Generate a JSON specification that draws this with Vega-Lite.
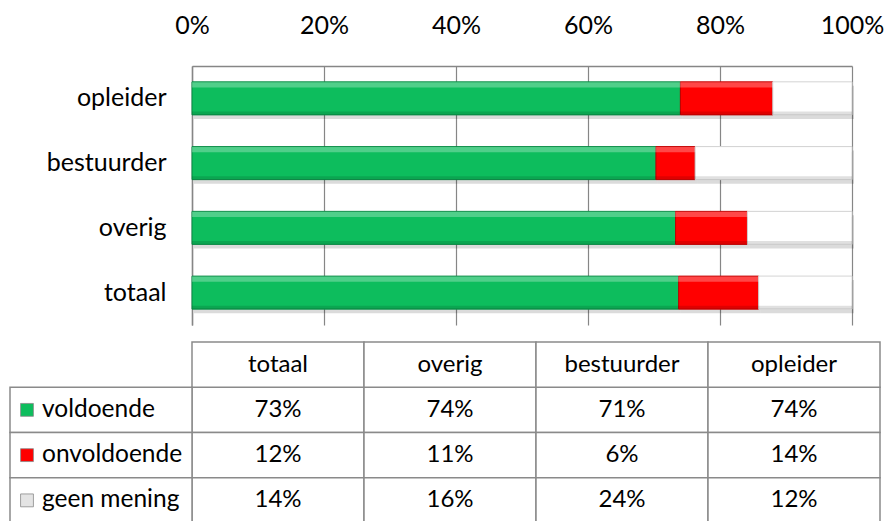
{
  "$schema": "https://vega.github.io/schema/vega-lite/v6.json",
  "autosize": {"type": "none"},
  "padding": {"left": 10, "top": 66, "right": 7, "bottom": 0},
  "background": "white",
  "config": {"font": "Lato", "view": {"stroke": null}},
  "width": 870,
  "height": 455,
  "data": {"values": [
    {"group": "totaal", "answer": "voldoende", "pct": 0.73},
    {"group": "totaal", "answer": "onvoldoende", "pct": 0.12},
    {"group": "totaal", "answer": "geen mening", "pct": 0.14},
    {"group": "overig", "answer": "voldoende", "pct": 0.74},
    {"group": "overig", "answer": "onvoldoende", "pct": 0.11},
    {"group": "overig", "answer": "geen mening", "pct": 0.16},
    {"group": "bestuurder", "answer": "voldoende", "pct": 0.71},
    {"group": "bestuurder", "answer": "onvoldoende", "pct": 0.06},
    {"group": "bestuurder", "answer": "geen mening", "pct": 0.24},
    {"group": "opleider", "answer": "voldoende", "pct": 0.74},
    {"group": "opleider", "answer": "onvoldoende", "pct": 0.14},
    {"group": "opleider", "answer": "geen mening", "pct": 0.12}
  ]},
  "layer": [
    {
      "mark": {"type": "bar", "height": {"band": 0.51}, "color": "#000000", "opacity": 0.14, "yOffset": 4, "xOffset": 2},
      "encoding": {
        "y": {"field": "group", "type": "nominal", "scale": {"domain": ["opleider", "bestuurder", "overig", "totaal"], "range": [0, 259], "paddingInner": 0, "paddingOuter": 0}, "axis": null},
        "x": {"field": "pct", "type": "quantitative", "stack": "normalize", "scale": {"domain": [0, 1], "range": [182, 842], "nice": false}, "axis": null},
        "detail": {"field": "answer"},
        "order": {"field": "answer", "sort": "descending"}
      }
    },
    {
      "mark": {"type": "bar", "height": {"band": 0.51}, "strokeWidth": 1},
      "encoding": {
        "y": {"field": "group", "type": "nominal",
          "scale": {"domain": ["opleider", "bestuurder", "overig", "totaal"], "range": [0, 259], "paddingInner": 0, "paddingOuter": 0},
          "axis": {"title": null, "offset": -182, "ticks": false, "labelFontSize": 25, "labelPadding": 26, "labelColor": "#000000", "domainColor": "#868686", "domainWidth": 1.5}},
        "x": {"field": "pct", "type": "quantitative", "stack": "normalize",
          "scale": {"domain": [0, 1], "range": [182, 842], "nice": false},
          "axis": {"orient": "top", "title": null, "values": [0, 0.2, 0.4, 0.6, 0.8, 1], "format": ".0%", "grid": true, "gridColor": "#868686", "gridWidth": 1.2, "ticks": false, "labelFlush": false, "labelFontSize": 25, "labelPadding": 28, "labelColor": "#000000", "domainColor": "#868686", "domainWidth": 1.5}},
        "order": {"field": "answer", "sort": "descending"},
        "color": {"field": "answer", "type": "nominal",
          "scale": {"domain": ["voldoende", "onvoldoende", "geen mening"], "range": ["#0DBD5D", "#FF0000", "#FFFFFF"]}, "legend": null},
        "stroke": {"field": "answer", "type": "nominal",
          "scale": {"domain": ["voldoende", "onvoldoende", "geen mening"], "range": ["#0A8A45", "#C00000", "#D0D0D0"]}, "legend": null}
      }
    },
    {
      "mark": {"type": "bar", "height": {"band": 0.08}, "color": "#FFFFFF", "opacity": 0.28, "yOffset": -13.5},
      "encoding": {
        "y": {"field": "group", "type": "nominal", "scale": {"domain": ["opleider", "bestuurder", "overig", "totaal"], "range": [0, 259], "paddingInner": 0, "paddingOuter": 0}, "axis": null},
        "x": {"field": "pct", "type": "quantitative", "stack": "normalize", "scale": {"domain": [0, 1], "range": [182, 842], "nice": false}, "axis": null},
        "detail": {"field": "answer"},
        "order": {"field": "answer", "sort": "descending"}
      }
    },
    {
      "mark": {"type": "bar", "height": {"band": 0.05}, "color": "#000000", "opacity": 0.12, "yOffset": 14.8},
      "encoding": {
        "y": {"field": "group", "type": "nominal", "scale": {"domain": ["opleider", "bestuurder", "overig", "totaal"], "range": [0, 259], "paddingInner": 0, "paddingOuter": 0}, "axis": null},
        "x": {"field": "pct", "type": "quantitative", "stack": "normalize", "scale": {"domain": [0, 1], "range": [182, 842], "nice": false}, "axis": null},
        "detail": {"field": "answer"},
        "order": {"field": "answer", "sort": "descending"}
      }
    },
    {
      "mark": {"type": "rect", "fill": "white", "stroke": "#8a8a8a", "strokeWidth": 1.5},
      "encoding": {
        "x": {"field": "group", "type": "nominal", "scale": {"domain": ["totaal", "overig", "bestuurder", "opleider"], "range": [182, 870], "paddingInner": 0, "paddingOuter": 0}, "axis": null},
        "y": {"field": "answer", "type": "nominal", "scale": {"domain": ["header", "voldoende", "onvoldoende", "geen mening"], "range": [276, 457], "paddingInner": 0, "paddingOuter": 0}, "axis": null}
      }
    },
    {
      "transform": [{"filter": "datum.answer === 'voldoende'"}],
      "mark": {"type": "rect", "fill": "white", "stroke": "#8a8a8a", "strokeWidth": 1.5},
      "encoding": {
        "x": {"field": "group", "type": "nominal", "scale": {"domain": ["totaal", "overig", "bestuurder", "opleider"], "range": [182, 870], "paddingInner": 0, "paddingOuter": 0}, "axis": null},
        "y": {"datum": "header", "scale": {"domain": ["header", "voldoende", "onvoldoende", "geen mening"], "range": [276, 457], "paddingInner": 0, "paddingOuter": 0}, "axis": null}
      }
    },
    {
      "transform": [{"filter": "datum.group === 'totaal'"}],
      "mark": {"type": "rect", "fill": "white", "stroke": "#8a8a8a", "strokeWidth": 1.5},
      "encoding": {
        "x": {"field": "group", "type": "nominal", "scale": {"domain": ["totaal"], "range": [0, 182], "paddingInner": 0, "paddingOuter": 0}, "axis": null},
        "y": {"field": "answer", "type": "nominal", "scale": {"domain": ["header", "voldoende", "onvoldoende", "geen mening"], "range": [276, 457], "paddingInner": 0, "paddingOuter": 0}, "axis": null}
      }
    },
    {
      "mark": {"type": "text", "fontSize": 24, "color": "#000000"},
      "encoding": {
        "x": {"field": "group", "type": "nominal", "scale": {"domain": ["totaal", "overig", "bestuurder", "opleider"], "range": [182, 870], "paddingInner": 0, "paddingOuter": 0}, "axis": null},
        "y": {"field": "answer", "type": "nominal", "scale": {"domain": ["header", "voldoende", "onvoldoende", "geen mening"], "range": [276, 457], "paddingInner": 0, "paddingOuter": 0}, "axis": null},
        "text": {"field": "pct", "type": "quantitative", "format": ".0%"}
      }
    },
    {
      "transform": [{"filter": "datum.answer === 'voldoende'"}],
      "mark": {"type": "text", "fontSize": 24, "color": "#000000"},
      "encoding": {
        "x": {"field": "group", "type": "nominal", "scale": {"domain": ["totaal", "overig", "bestuurder", "opleider"], "range": [182, 870], "paddingInner": 0, "paddingOuter": 0}, "axis": null},
        "y": {"datum": "header", "scale": {"domain": ["header", "voldoende", "onvoldoende", "geen mening"], "range": [276, 457], "paddingInner": 0, "paddingOuter": 0}, "axis": null},
        "text": {"field": "group", "type": "nominal"}
      }
    },
    {
      "transform": [{"filter": "datum.group === 'totaal'"}],
      "mark": {"type": "text", "fontSize": 24.5, "color": "#000000", "align": "left"},
      "encoding": {
        "x": {"field": "group", "type": "nominal", "scale": {"domain": ["totaal"], "range": [0, 64], "paddingInner": 0, "paddingOuter": 0}, "axis": null},
        "y": {"field": "answer", "type": "nominal", "scale": {"domain": ["header", "voldoende", "onvoldoende", "geen mening"], "range": [276, 457], "paddingInner": 0, "paddingOuter": 0}, "axis": null},
        "text": {"field": "answer", "type": "nominal"}
      }
    },
    {
      "transform": [{"filter": "datum.group === 'totaal'"}],
      "mark": {"type": "square", "size": 165, "opacity": 1, "strokeWidth": 0.8, "stroke": "#8a8a8a"},
      "encoding": {
        "x": {"field": "group", "type": "nominal", "scale": {"domain": ["totaal"], "range": [0, 34], "paddingInner": 0, "paddingOuter": 0}, "axis": null},
        "y": {"field": "answer", "type": "nominal", "scale": {"domain": ["header", "voldoende", "onvoldoende", "geen mening"], "range": [276, 457], "paddingInner": 0, "paddingOuter": 0}, "axis": null},
        "fill": {"field": "answer", "type": "nominal",
          "scale": {"domain": ["voldoende", "onvoldoende", "geen mening"], "range": ["#0DBD5D", "#FF0000", "#E4E4E4"]}, "legend": null}
      }
    }
  ],
  "resolve": {"scale": {"x": "independent", "y": "independent"}}
}
